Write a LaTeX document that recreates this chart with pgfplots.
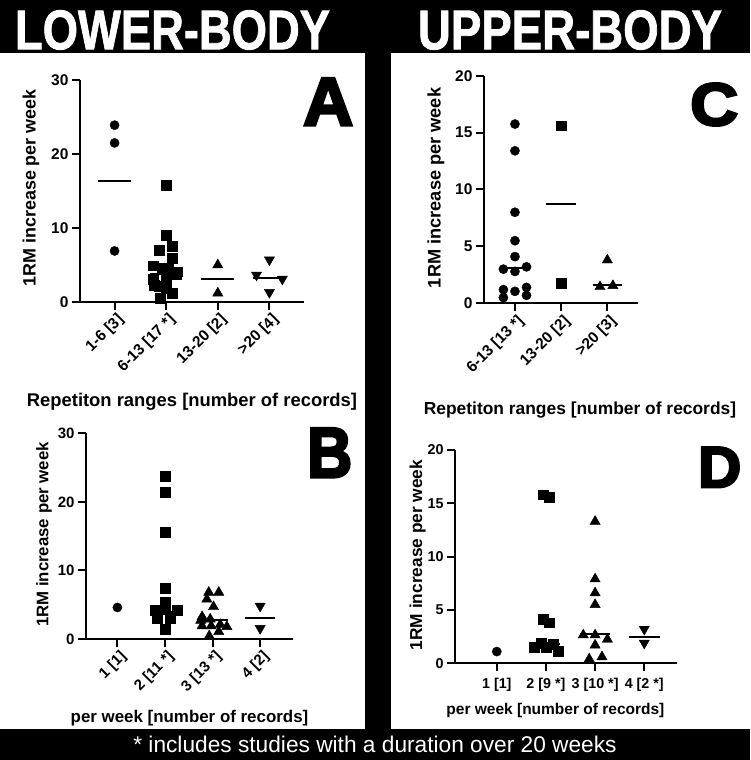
\documentclass[border=0pt]{standalone}
\usepackage{fontspec}
\setmainfont{Liberation Sans}
\newfontfamily\heavy{Liberation Sans}[UprightFont={* Bold}, FakeBold=4]
\newfontfamily\hdr{Liberation Sans}[UprightFont={* Bold}, FakeBold=1.5]
\usepackage{graphicx}
\usepackage{pgfplots}
\pgfplotsset{compat=1.18}
\pgfplotsset{
  prism/.style={
    scale only axis, anchor=south west, clip=false,
    axis x line=bottom, axis y line=left,
    axis line style={-, line width=2pt, black},
    tick align=outside, major tick length=8pt,
    tick style={line width=2pt, black},
    ymin=0,
    /pgf/number format/assume math mode=true,
    xlabel style={anchor=center},
    ylabel style={anchor=center, rotate=0},
  },
  rot/.style={xticklabel style={xshift=9pt, yshift=-5pt, rotate=45, anchor=east}},
  circ/.style={only marks, mark=*, mark size=4.6pt, black},
  sq/.style={only marks, mark=square*, mark size=4.9pt, black},
  tri/.style={only marks, mark=triangle*, mark size=5.9pt, black},
  dtri/.style={only marks, mark=triangle*, mark size=5.9pt, black, every mark/.append style={rotate=180}},
  med/.style={black, line width=2pt, no marks},
}
\begin{document}
\begin{tikzpicture}[x=1pt,y=1pt]
\useasboundingbox (0,0) rectangle (750,760);
\fill[white] (0,0) rectangle (750,760);
\fill[black] (0,707) rectangle (750,760);
\fill[black] (365,31) rectangle (391,707);
\fill[black] (0,0) rectangle (750,31);
\node[inner sep=0, text=white] at (172.5,730) {\resizebox{315pt}{39pt}{\hdr LOWER-BODY}};
\node[inner sep=0, text=white] at (570,730) {\resizebox{304pt}{39pt}{\hdr UPPER-BODY}};
\node[inner sep=0, text=white] at (375,15.5) {\fontsize{22.7}{26}\selectfont * includes studies with a duration over 20 weeks};

% Panel A
\begin{axis}[prism, rot, at={(80pt,458pt)}, width=224pt, height=222pt,
  xmin=-0.67, xmax=3.67, ymax=30, ytick={0,10,20,30},
  xtick={0,1,2,3}, xticklabels={{1-6 [3]},{6-13 [17 *]},{13-20 [2]},{>20 [4]}},
  tick label style={font=\fontsize{15.5}{18}\selectfont\bfseries},
  ylabel={1RM increase per week}, xlabel={Repetiton ranges [number of records]},
  ylabel style={at={(axis description cs:-0.219,0.514)}, font=\fontsize{17.9}{21}\selectfont\bfseries},
  xlabel style={at={(axis description cs:0.5,-0.45)}, font=\fontsize{18.4}{21}\selectfont\bfseries},
]
\addplot[circ] coordinates {(0,23.9) (0,21.5) (0,6.9)};
\addplot[med] coordinates {(-0.32,16.4) (0.32,16.4)};
\addplot[sq] coordinates {(1,15.8) (1,9.0) (0.87,7.0) (1.12,7.5) (1.12,5.9) (0.75,4.9) (0.93,4.6) (1.22,4.1) (1.05,4.4) (0.75,3.1) (1,3.1) (0.87,2.1) (1.12,1.2) (0.88,0.5) (1,1.8) (0.77,2.3) (1.2,3.8)};
\addplot[med] coordinates {(0.68,3.8) (1.32,3.8)};
\addplot[tri] coordinates {(2,5.0) (2,1.2)};
\addplot[med] coordinates {(1.68,3.1) (2.32,3.1)};
\addplot[dtri] coordinates {(3,5.7) (2.75,3.65) (3.25,3.1) (3,1.3)};
\addplot[med] coordinates {(2.68,3.3) (3.32,3.3)};
\end{axis}
\node[anchor=north west, inner sep=0] at (303,682) {\resizebox{50pt}{47pt}{\heavy A}};

% Panel B
\begin{axis}[prism, rot, at={(86pt,121pt)}, width=207pt, height=205.7pt,
  xmin=-0.66, xmax=3.69, ymax=30, ytick={0,10,20,30},
  xtick={0,1,2,3}, xticklabels={{1 [1]},{2 [11 *]},{3 [13 *]},{4 [2]}},
  tick label style={font=\fontsize{15}{18}\selectfont\bfseries},
  ylabel={1RM increase per week}, xlabel={per week [number of records]},
  ylabel style={at={(axis description cs:-0.203,0.508)}, font=\fontsize{16.8}{20}\selectfont\bfseries},
  xlabel style={at={(axis description cs:0.5,-0.384)}, font=\fontsize{16.9}{20}\selectfont\bfseries},
]
\addplot[circ] coordinates {(0,4.6)};
\addplot[sq] coordinates {(1,23.8) (1,21.4) (1,15.6) (1,7.4) (1,5.4) (0.8,4.2) (1.25,4.2) (1,4.3) (0.83,3.0) (1.11,3.0) (1,1.4)};
\addplot[med] coordinates {(0.68,4.0) (1.32,4.0)};
\addplot[tri] coordinates {(1.92,6.8) (2.13,6.8) (1.88,5.8) (2.02,4.7) (1.78,3.25) (1.95,2.9) (1.78,1.9) (1.97,1.9) (2.16,2.1) (2.3,1.8) (2.13,1.07) (1.93,0.45) (1.75,2.7)};
\addplot[med] coordinates {(1.68,2.77) (2.32,2.77)};
\addplot[dtri] coordinates {(3,4.8) (3,1.55)};
\addplot[med] coordinates {(2.68,3.0) (3.32,3.0)};
\end{axis}
\node[anchor=north west, inner sep=0] at (307,332) {\resizebox{45pt}{49pt}{\heavy B}};

% Panel C
\begin{axis}[prism, rot, at={(484pt,456.7pt)}, width=154.3pt, height=227.6pt,
  xmin=-0.67, xmax=2.67, ymax=20, ytick={0,5,10,15,20},
  xtick={0,1,2}, xticklabels={{6-13 [13 *]},{13-20 [2]},{>20 [3]}},
  tick label style={font=\fontsize{15.5}{18}\selectfont\bfseries},
  ylabel={1RM increase per week}, xlabel={Repetiton ranges [number of records]},
  ylabel style={at={(axis description cs:-0.311,0.507)}, font=\fontsize{18.2}{21}\selectfont\bfseries},
  xlabel style={at={(axis description cs:0.622,-0.469)}, font=\fontsize{17.4}{20}\selectfont\bfseries},
]
\addplot[circ] coordinates {(0,15.75) (0,13.4) (0,8.0) (0,5.5) (0,4.1) (-0.25,3.0) (0.25,3.2) (0,2.8) (-0.25,1.2) (0,1.05) (0.25,1.4) (-0.25,0.5) (0.25,0.7)};
\addplot[med] coordinates {(-0.32,3.07) (0.32,3.07)};
\addplot[sq] coordinates {(1,15.6) (1,1.8)};
\addplot[med] coordinates {(0.68,8.7) (1.32,8.7)};
\addplot[tri] coordinates {(2,3.8) (1.84,1.45) (2.12,1.55)};
\addplot[med] coordinates {(1.68,1.6) (2.32,1.6)};
\end{axis}
\node[anchor=north west, inner sep=0] at (690,677) {\resizebox{48pt}{42pt}{\heavy C}};

% Panel D
\begin{axis}[prism, at={(455pt,96.7pt)}, width=221.7pt, height=213.3pt,
  xmin=-0.85, xmax=3.66, ymax=20, ytick={0,5,10,15,20},
  xtick={0,1,2,3}, xticklabels={{1 [1]},{2 [9 *]},{3 [10 *]},{4 [2 *]}},
  tick label style={font=\fontsize{14.3}{17}\selectfont\bfseries},
  xticklabel style={yshift=-3pt},
  ylabel={1RM increase per week}, xlabel={per week [number of records]},
  ylabel style={at={(axis description cs:-0.169,0.508)}, font=\fontsize{17.3}{20}\selectfont\bfseries},
  xlabel style={at={(axis description cs:0.453,-0.219)}, font=\fontsize{15.5}{18}\selectfont\bfseries},
]
\addplot[circ] coordinates {(0,1.1)};
\addplot[sq] coordinates {(0.95,15.8) (1.07,15.6) (0.95,4.1) (1.07,3.8) (0.76,1.5) (0.9,1.9) (1.15,1.8) (1,1.5) (1.25,1.1)};
\addplot[med] coordinates {(0.71,1.8) (1.29,1.8)};
\addplot[tri] coordinates {(2,13.3) (2,7.9) (2,6.6) (2,5.5) (1.76,2.65) (2,2.65) (2.25,2.25) (2,1.7) (1.88,0.4) (2.14,0.6)};
\addplot[med] coordinates {(1.7,2.75) (2.3,2.75)};
\addplot[dtri] coordinates {(3,3.2) (3,1.9)};
\addplot[med] coordinates {(2.69,2.5) (3.31,2.5)};
\end{axis}
\node[anchor=north west, inner sep=0] at (698,313) {\resizebox{43pt}{40pt}{\heavy D}};
\end{tikzpicture}
\end{document}
